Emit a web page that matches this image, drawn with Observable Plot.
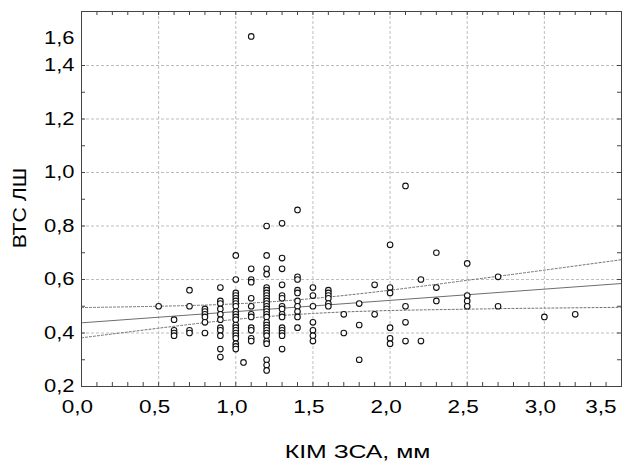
<!DOCTYPE html>
<html>
<head>
<meta charset="utf-8">
<script src="https://cdn.jsdelivr.net/npm/d3@7"></script>
<script src="https://cdn.jsdelivr.net/npm/@observablehq/plot@0.6"></script>
<style>
  html, body { margin: 0; padding: 0; background: #fff; }
  #chart svg { display: block; }
</style>
</head>
<body>
<div id="chart"></div>
<script>
// КІМ ЗСА (x) groups and ВТС ЛШ (y) values at each x
const kimValues = [0.5, 0.6, 0.7, 0.8, 0.9, 1.0, 1.05, 1.1, 1.2, 1.3, 1.4, 1.5, 1.6, 1.7, 1.8, 1.9, 2.0, 2.1, 2.2, 2.3, 2.5, 2.7, 3.0, 3.2];
const vtsValues = [
  [0.50],
  [0.45, 0.41, 0.40, 0.39],
  [0.56, 0.50, 0.41, 0.40],
  [0.49, 0.48, 0.47, 0.46, 0.44, 0.40],
  [0.57, 0.52, 0.51, 0.49, 0.47, 0.45, 0.42, 0.41, 0.39, 0.34, 0.31],
  [0.69, 0.60, 0.55, 0.54, 0.53, 0.52, 0.51, 0.50, 0.48, 0.47, 0.46, 0.45, 0.43, 0.42, 0.41, 0.40, 0.39, 0.38, 0.36, 0.35, 0.34],
  [0.29],
  [1.61, 0.64, 0.60, 0.59, 0.53, 0.50, 0.47, 0.46, 0.42, 0.41, 0.38, 0.37],
  [0.80, 0.69, 0.64, 0.62, 0.57, 0.56, 0.55, 0.54, 0.53, 0.52, 0.51, 0.50, 0.49, 0.48, 0.47, 0.46, 0.44, 0.43, 0.42, 0.41, 0.40, 0.39, 0.37, 0.36, 0.30, 0.28, 0.26],
  [0.81, 0.68, 0.64, 0.58, 0.54, 0.53, 0.50, 0.49, 0.47, 0.46, 0.42, 0.41, 0.40, 0.39, 0.34],
  [0.86, 0.61, 0.60, 0.56, 0.55, 0.52, 0.50, 0.48, 0.46, 0.42],
  [0.57, 0.54, 0.50, 0.44, 0.41, 0.39, 0.37],
  [0.56, 0.55, 0.54, 0.53, 0.51, 0.50],
  [0.47, 0.40],
  [0.51, 0.43, 0.30],
  [0.58, 0.47],
  [0.73, 0.57, 0.55, 0.42, 0.38, 0.36],
  [0.95, 0.50, 0.44, 0.37],
  [0.60, 0.37],
  [0.70, 0.57, 0.52],
  [0.66, 0.54, 0.52, 0.50],
  [0.61, 0.50],
  [0.46],
  [0.47]
];

// Regression line and 95% confidence band
const regX = [0, 3.5];
const regY = [0.438, 0.585];
const bandX = [0, 0.5, 1.0, 1.5, 2.0, 2.5, 2.7, 3.0, 3.5];
const bandUpper = [0.495, 0.500, 0.509, 0.529, 0.560, 0.597, 0.612, 0.635, 0.674];
const bandLower = [0.382, 0.418, 0.451, 0.473, 0.484, 0.489, 0.491, 0.493, 0.496];

// Axes
const xTicks = [0, 0.5, 1.0, 1.5, 2.0, 2.5, 3.0];
const xLastTick = [3.5];
const xGrid = [0.5, 1.0, 1.5, 2.0, 2.5, 3.0];
const yTicks = [0.2, 0.4, 0.6, 0.8, 1.0, 1.2, 1.4, 1.6];
const yGrid = [0.4, 0.6, 0.8, 1.0, 1.2, 1.4];
const xMinor = d3.range(0, 36).map(i => i / 10);
const yMinor = d3.range(2, 15).map(i => i / 10);
const xTitle = ["КІМ ЗСА, мм"];
const yTitle = ["ВТС ЛШ"];

const points = kimValues.flatMap((x, i) => vtsValues[i].map(y => ({x, y})));
const reg = regX.map((x, i) => ({x, y: regY[i]}));
const band = bandX.map((x, i) => ({x, hi: bandUpper[i], lo: bandLower[i]}));

const W = 627, H = 463;
const mL = 81, mR = 6, mT = 11, mB = 77;
const frameW = W - mL - mR, frameH = H - mT - mB;
const fmt = d => d.toFixed(1).replace(".", ",");

const chart = Plot.plot({
  width: W,
  height: H,
  marginLeft: mL, marginRight: mR, marginTop: mT, marginBottom: mB,
  style: {fontFamily: "'Liberation Sans', Arial, Helvetica, sans-serif", fontSize: "18px", background: "#fff", color: "#000"},
  x: {domain: [0, 3.5]},
  y: {type: "linear", domain: [0.2, 1.4, 1.79], range: [H - mB, 65, mT]},
  marks: [
    Plot.ruleX(xGrid, {stroke: "#bdbdbd", strokeDasharray: "3,2", strokeWidth: 1}),
    Plot.ruleY(yGrid, {stroke: "#bdbdbd", strokeDasharray: "3,2", strokeWidth: 1}),
    Plot.line(band, {x: "x", y: "hi", stroke: "#6e6e6e", strokeWidth: 1, strokeDasharray: "2,2", curve: "natural"}),
    Plot.line(band, {x: "x", y: "lo", stroke: "#6e6e6e", strokeWidth: 1, strokeDasharray: "2,2", curve: "natural"}),
    Plot.line(reg, {x: "x", y: "y", stroke: "#6e6e6e", strokeWidth: 1}),
    Plot.dot(points, {x: "x", y: "y", r: 2.8, stroke: "#111", strokeWidth: 1.1, fill: "#fff"}),
    // inward minor/major ticks on all four sides
    Plot.tickX(xMinor, {x: d => d, insetTop: frameH - 4, stroke: "#444"}),
    Plot.tickX(xMinor, {x: d => d, insetBottom: frameH - 4, stroke: "#444"}),
    Plot.tickY(yMinor, {y: d => d, insetRight: frameW - 4, stroke: "#444"}),
    Plot.tickY(yMinor, {y: d => d, insetLeft: frameW - 4, stroke: "#444"}),
    Plot.frame({stroke: "#444", strokeWidth: 1}),
    Plot.axisX(xTicks, {tickSize: 0, tickPadding: 14, dx: -4, tickFormat: fmt, fontSize: 18, label: null}),
    Plot.axisX(xLastTick, {tickSize: 0, tickPadding: 14, dx: -5, textAnchor: "end", tickFormat: fmt, fontSize: 18, label: null}),
    Plot.axisY(yTicks, {tickSize: 0, tickPadding: 7, tickFormat: fmt, fontSize: 18, label: null}),
    Plot.text(xTitle, {frameAnchor: "bottom", dy: 66, dx: 6, textAnchor: "middle", lineAnchor: "middle", fontSize: 18, fill: "#000"}),
    Plot.text(yTitle, {frameAnchor: "left", dx: -62, dy: 9, textAnchor: "middle", lineAnchor: "middle", rotate: -90, fontSize: 19, fill: "#000"})
  ]
});

// The reference typeface is wider than Liberation Sans: stretch text along its baseline
function stretchText(sel, sx) {
  sel.each(function() {
    const t = this.getAttribute("transform");
    if (t) {
      this.setAttribute("transform", t + ` scale(${sx},1)`);
    } else {
      const x = +this.getAttribute("x") || 0, y = +this.getAttribute("y") || 0;
      this.setAttribute("transform", `translate(${x},${y}) scale(${sx},1) translate(${-x},${-y})`);
    }
  });
}
const allText = d3.select(chart).selectAll("text");
stretchText(d3.select(chart).selectAll('[aria-label="x-axis tick label"] text'), 1.25);
stretchText(d3.select(chart).selectAll('[aria-label="y-axis tick label"] text'), 1.22);
stretchText(allText.filter(function() { return this.textContent === xTitle[0]; }), 1.38);
stretchText(allText.filter(function() { return this.textContent === yTitle[0]; }), 1.12);

document.getElementById("chart").appendChild(chart);
</script>
</body>
</html>
